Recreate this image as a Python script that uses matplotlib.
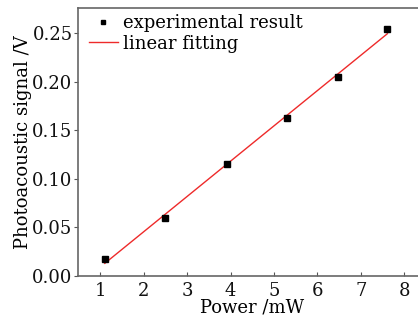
import numpy as np
import matplotlib
matplotlib.use("Agg")
import matplotlib.pyplot as plt

# measured points
power_mw = [1.10, 2.48, 3.92, 5.29, 6.47, 7.61]
signal_v = [0.0172, 0.060, 0.115, 0.1625, 0.2053, 0.2545]

x_ticks = [1, 2, 3, 4, 5, 6, 7, 8]
y_ticks = [0.00, 0.05, 0.10, 0.15, 0.20, 0.25]

plt.rcParams["font.family"] = "DejaVu Serif"
plt.rcParams["font.size"] = 13

fig = plt.figure(figsize=(4.18, 3.22), dpi=100)
# right edge runs past the image, like the source figure
ax = fig.add_axes([0.187, 0.143, 0.830, 0.832])

slope, icpt = np.polyfit(power_mw, signal_v, 1)
xfit = np.array([power_mw[0], power_mw[-1]])

ax.plot(power_mw, signal_v, "s", color="black", markersize=4, label="experimental result", zorder=3)
ax.plot(xfit, slope * xfit + icpt, "-", color="#ee2a2a", lw=1.0, label="linear fitting", zorder=2)

ax.set_xlim(0.486, 8.48)
ax.set_ylim(0, 0.276)
ax.set_xticks(x_ticks)
ax.set_yticks(y_ticks)
ax.set_yticklabels([f"{v:.2f}" for v in y_ticks])
ax.tick_params(axis="x", direction="in", length=3, width=0.8, colors="#555555", labelcolor="#111111", pad=4)
ax.tick_params(axis="y", direction="out", length=3, width=0.8, colors="#555555", labelcolor="#111111", pad=1)
for s in ax.spines.values():
    s.set_color("#666666")
    s.set_linewidth(1.2)

ax.set_xlabel("Power /mW", labelpad=-1)
ax.set_ylabel("Photoacoustic signal /V", labelpad=0)

ax.legend(loc="upper left", frameon=False, handlelength=1.6, handletextpad=0.3,
          borderaxespad=0.2, labelspacing=0.15, markerscale=0.8,
          bbox_to_anchor=(0.0, 1.018))

fig.savefig("out.png", dpi=100)
